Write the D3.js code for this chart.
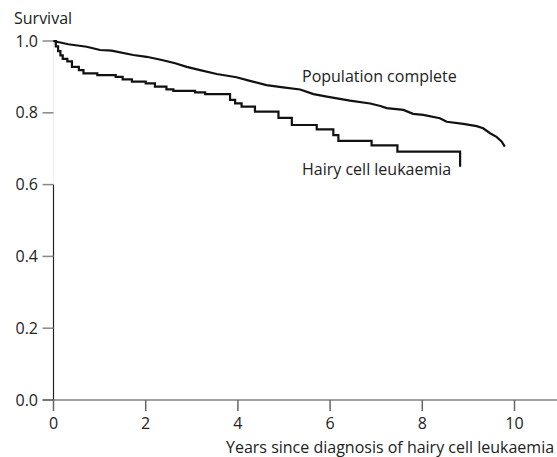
<!DOCTYPE html>
<html><head><meta charset="utf-8">
<script src="https://cdn.jsdelivr.net/npm/d3@7"></script>
<style>body{margin:0;background:#fff}svg{display:block}text{font-family:"Open Sans",sans-serif;fill:#222}</style>
</head><body>
<script>
const xTicks = [0, 2, 4, 6, 8, 10];
const yTicks = [0.0, 0.2, 0.4, 0.6, 0.8, 1.0];
const hclTime = [0, 0.05, 0.1, 0.15, 0.2, 0.3, 0.4, 0.55, 0.65, 0.95, 1.35, 1.5, 1.7, 2.0, 2.2, 2.45, 2.6, 3.07, 3.29, 3.83, 3.94, 4.08, 4.37, 4.88, 5.17, 5.71, 6.07, 6.18, 6.9, 7.46, 8.82, 8.82];
const hclSurv = [1.0, 0.985, 0.972, 0.960, 0.950, 0.943, 0.928, 0.919, 0.910, 0.905, 0.900, 0.893, 0.887, 0.882, 0.873, 0.865, 0.861, 0.857, 0.852, 0.836, 0.826, 0.817, 0.803, 0.786, 0.766, 0.754, 0.738, 0.722, 0.709, 0.692, 0.692, 0.650];
const popTime = [0, 0.32, 0.72, 1.01, 1.26, 1.73, 2.02, 2.35, 2.64, 2.89, 3.18, 3.54, 3.97, 4.26, 4.62, 4.98, 5.35, 5.64, 5.93, 6.43, 6.87, 7.09, 7.23, 7.59, 7.80, 8.02, 8.38, 8.53, 8.89, 9.18, 9.32, 9.47, 9.61, 9.72, 9.79];
const popSurv = [1.0, 0.991, 0.984, 0.975, 0.973, 0.961, 0.956, 0.947, 0.938, 0.928, 0.919, 0.908, 0.899, 0.889, 0.877, 0.871, 0.865, 0.852, 0.845, 0.834, 0.826, 0.819, 0.813, 0.808, 0.797, 0.794, 0.785, 0.775, 0.769, 0.763, 0.757, 0.743, 0.733, 0.720, 0.706];
const seriesLabels = ["Population complete", "Hairy cell leukaemia"];

const W = 557, H = 457;
const svg = d3.select("body").append("svg").attr("width", W).attr("height", H);
const x = d3.scaleLinear().domain([0, 10]).range([53.5, 514.5]);
const y = d3.scaleLinear().domain([0, 1]).range([400, 41]);

svg.append("line").attr("x1", x(0)).attr("x2", x(0)).attr("y1", y(1)).attr("y2", y(0.6)).attr("stroke", "#eeeeee").attr("stroke-width", 1);
svg.append("line").attr("x1", x(0)).attr("x2", x(0)).attr("y1", y(0.6)).attr("y2", y(0)).attr("stroke", "#222").attr("stroke-width", 1.2);
const yg = svg.append("g");
yTicks.forEach(v => {
  yg.append("line").attr("x1", x(0) - 11).attr("x2", x(0)).attr("y1", y(v)).attr("y2", y(v)).attr("stroke", "#888").attr("stroke-width", 1.5);
  yg.append("text").attr("x", 38).attr("y", y(v)).attr("dy", "0.35em").attr("text-anchor", "end").attr("font-size", 16).text(v.toFixed(1));
});
svg.append("line").attr("x1", x(0) - 11).attr("x2", W).attr("y1", y(0)).attr("y2", y(0)).attr("stroke", "#444").attr("stroke-width", 1.2);
const xg = svg.append("g");
xTicks.forEach(v => {
  xg.append("line").attr("x1", x(v)).attr("x2", x(v)).attr("y1", y(0)).attr("y2", y(0) + 11).attr("stroke", "#666").attr("stroke-width", 1.5);
  xg.append("text").attr("x", x(v)).attr("y", 429).attr("text-anchor", "middle").attr("font-size", 16).text(v);
});

svg.append("text").attr("x", 14).attr("y", 24).attr("font-size", 16).text("Survival");
svg.append("text").attr("x", 226).attr("y", 453).attr("font-size", 16).text("Years since diagnosis of hairy cell leukaemia");

const hcl = hclTime.map((t, i) => [t, hclSurv[i]]);
const pop = popTime.map((t, i) => [t, popSurv[i]]);
svg.append("path").datum(hcl).attr("fill", "none").attr("stroke", "#111").attr("stroke-width", 2.2)
  .attr("d", d3.line().x(d => x(d[0])).y(d => y(d[1])).curve(d3.curveStepAfter));
svg.append("path").datum(pop).attr("fill", "none").attr("stroke", "#111").attr("stroke-width", 2.2)
  .attr("d", d3.line().x(d => x(d[0])).y(d => y(d[1])));

svg.append("text").attr("x", 302).attr("y", 82).attr("font-size", 16).text(seriesLabels[0]);
svg.append("text").attr("x", 302).attr("y", 175).attr("font-size", 16).text(seriesLabels[1]);
</script>
</body></html>
